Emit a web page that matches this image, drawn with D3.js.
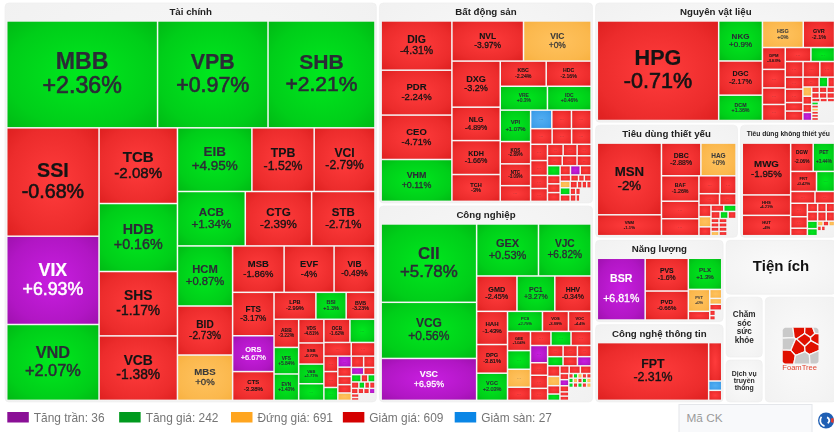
<!DOCTYPE html>
<html><head><meta charset="utf-8">
<script src="https://cdn.jsdelivr.net/npm/d3@7"></script>
<style>
html,body{margin:0;padding:0;background:#fff;overflow:hidden}
svg{display:block;filter:blur(0.35px);font-family:"Liberation Sans",Arial,sans-serif}
</style></head><body>
<svg id="c" width="834" height="432"></svg>
<script>
// name, percent change, relative weight
const S=(name,pct,w)=>({name,pct,w});
// unnamed small tile: status code, relative weight
const u=(code,w)=>({code,w});
const E=w=>({empty:true,w});
const H=(...kids)=>({dir:'H',kids});
const V=(...kids)=>({dir:'V',kids});
const r=w=>u('down',w), g=w=>u('up',w), o=w=>u('flat',w), p=w=>u('ceil',w), b=w=>u('floor',w);

const ceilingTickers=['VIX','ORS','VSC','BSR'];

const tcTiny=V(H(r(138),r(127)),H(p(88),r(80)),H(g(71),r(49),g(52)),H(r(48),g(37),r(31),r(34)),H(r(36),r(30),r(30),p(30)),H(V(r(28),r(22)),E(105)));
const tcSmall=V(H(S('OCB',-1.62,599),g(576)),H(r(371),r(322)),H(V(r(213),r(220),g(178)),V(p(148),r(125),r(110),r(112),o(99)),tcTiny));
const tcMid=V(H(S('LPB',-2.99,1120),S('BSI',1.3,810),S('BVB',-3.23,770)),
  H(V(S('ABB',-3.22,688),S('VFS',5.84,650),S('EVN',1.43,645)),V(S('VDS',-4.81,592),S('SSB',-0.72,529),S('VAB',1.71,491),g(416)),tcSmall));
const tcLow=H(V(S('HCM',0.87,3289),S('BID',-2.73,2684),S('MBS',0,2481)),
  V(H(S('MSB',-1.86,2372),S('EVF',-4,2302),S('VIB',-0.49,1883)),H(V(S('FTS',-3.17,1785),S('ORS',6.67,1473),S('CTS',-3.38,1183)),tcMid)));
const tcRight=V(H(S('EIB',4.95,4704),S('TPB',-1.52,3936),S('VCI',-2.79,3840)),H(S('ACB',1.34,3665),S('CTG',-2.39,3584),S('STB',-2.71,3421)),tcLow);
const taiChinh=V(H(S('MBB',2.36,15996),S('VPB',0.97,11715),S('SHB',2.21,11342)),
  H(V(S('SSI',-0.68,9931),S('VIX',6.93,8088),S('VND',2.07,6951)),V(S('TCB',-2.08,5889),S('HDB',0.16,5288),S('SHS',-1.17,5008),S('VCB',-1.38,5015)),tcRight));

const bdsTiny=V(H(r(49),r(32),r(32),r(30)),H(r(36),r(30),E(70)),H(r(39),r(25),E(75)));
const bdsCorner=V(H(r(95),p(90),r(100)),H(r(65),r(49),r(36),r(42)),H(V(o(65),g(70),r(65)),bdsTiny));
const bdsA=V(H(r(178),r(159),r(159)),H(r(145),r(145),r(138)),H(V(g(124),r(104),r(110),r(110)),bdsCorner));
const bdsB=V(H(b(389),r(361),r(361)),H(r(333),r(302),r(302)),H(V(r(271),r(247),r(219),r(214)),bdsA));
const bdsC=V(H(S('KBC',-2.24,1147),S('HDC',-2.16,1121)),H(S('VRE',0.3,1114),S('IDC',0.46,1031)),H(V(S('VPI',1.07,946),S('KOS',-2.89,671),S('NTC',-3.09,656),r(473)),bdsB));
const batDongSan=H(V(S('DIG',-4.31,3450),S('PDR',-2.24,3146),S('CEO',-4.71,3111),S('VHM',0.11,2934)),
  V(H(S('NVL',-3.97,2846),S('VIC',0,2687)),H(V(S('DXG',-3.2,2207),S('NLG',-4.89,1600),S('KDH',-1.66,1625),S('TCH',-3,1285)),bdsC)));

const cnTiny=V(H(r(21),g(21),o(21),r(21),r(21)),H(g(21),o(21),r(21),g(21),o(21)),H(g(21),r(21),g(21),r(21),o(21)),E(292));
const cnCorner=V(H(r(72),r(87),r(84)),H(V(r(55),p(55),r(55),r(38),r(38)),cnTiny));
const cnA=V(H(r(175),r(162),r(155)),H(g(144),r(134),p(128)),H(V(r(132),o(116),r(104),g(79)),cnCorner));
const cnB=V(H(r(293),g(287),r(287)),H(V(p(300),r(218),r(228),r(209)),cnA));
const cnC=V(H(S('PC9',2.75,711),S('VOS',-3.89,529),S('VOC',-4.4,461)),H(V(S('GEE',-1.04,447),g(435),o(418),r(306)),cnB));
const congNghiep=H(V(S('CII',5.78,7590),S('VCG',0.56,5435),S('VSC',6.95,4060)),
  V(H(S('GEX',0.53,3264),S('VJC',6.82,2777)),H(S('GMD',-2.45,1448),S('PC1',3.27,1358),S('HHV',-0.34,1303)),
    H(V(S('HAH',-1.43,1040),S('DPG',-3.81,898),S('VGC',2.03,851)),cnC)));

const nvTiny=V(H(r(43),r(43),r(43)),H(r(43),r(43),r(43)),H(r(30),r(26),r(26)),H(V(g(21),r(21),o(21),r(21),r(21),r(21)),E(297)));
const nvA=V(H(r(160),g(85),r(66)),H(V(o(81),r(71),r(71),p(71)),nvTiny));
const nvB=V(H(r(357),g(329)),H(r(277),r(261),r(229)),H(V(r(210),r(236),r(149),r(166)),nvA));
const nguyenVatLieu=H(S('HPG',-0.71,12034),V(S('NKG',0.9,1743),S('DGC',-2.17,1489),S('DCM',1.36,1104)),
  V(H(S('HSG',0,1081),S('GVR',-2.1,828)),H(V(S('DPM',-3.63,497),r(422),r(376),r(365)),nvB)));

const tyTiny=V(H(r(81),g(78)),H(r(64),g(56),r(56)),H(V(r(34),r(34),r(34),o(34)),V(r(34),r(34),r(34),r(34)),E(153)));
const tyA=V(H(r(376),r(281)),H(r(232),r(186)),H(V(r(138),o(122),r(105)),tyTiny));
const tieuDungThietYeu=H(V(S('MSN',-2,4550),S('VNM',-1.1,1325)),
  V(H(S('DBC',-2.88,1274),S('HAG',0,1138)),H(V(S('BAF',-1.26,942),r(650),r(628)),tyA)));

const ktTiny=V(H(r(92),r(77),r(75)),H(r(100),r(84),r(81)),H(V(g(79),g(74)),V(H(o(29),r(29),o(29)),H(r(20),r(20),E(47)),E(87))));
const tieuDungKhongThietYeu=H(V(S('MWG',-1.95,2629),S('HHS',-4.21,1036),S('HUT',-4,1031)),
  V(H(S('DGW',-2.06,668),S('PET',3.44,634)),H(S('FRT',-0.42,543),g(379)),H(r(301),r(242)),H(V(r(236),r(201),r(131)),ktTiny)));

const nangLuong=H(S('BSR',6.81,2907),V(S('PVS',-1.6,1391),S('PVD',-0.66,1231)),
  V(S('PLX',1.3,1022),H(V(S('PVT',0,462),r(183)),V(o(106),o(69),r(69),H(V(r(30),r(24)),E(62))))));

const congNgheThongTin=H(S('FPT',-2.31,6550),V(r(510),b(124),r(133)));

const sectorNames=['Tài chính','Bất động sản','Công nghiệp','Nguyên vật liệu','Tiêu dùng thiết yếu','Tiêu dùng không thiết yếu','Năng lượng','Công nghệ thông tin','Tiện ích','Chăm sóc sức khỏe','Dịch vụ truyền thông','FoamTree'];
const sectorWeights=[150348,43834,42966,29707,16675,11328,11004,10480,6412,2457,1755,7938];
const sectorTrees=[taiChinh,batDongSan,congNghiep,nguyenVatLieu,tieuDungThietYeu,tieuDungKhongThietYeu,nangLuong,congNgheThongTin,null,null,null,null];

const legendLabels=['Tăng trần','Tăng giá','Đứng giá','Giảm giá','Giảm sàn'];
const legendCounts=[36,242,691,609,27];
const legendColors=['#8a0f96','#009a1e','#ffa51f','#d40000','#0a86e6'];
const searchPlaceholder='Mã CK';

// palette
const tone={
  up:{c:'#00e81e',e:'#00b814',t:'#2b2b36'},
  down:{c:'#ff3c3c',e:'#dd1f1f',t:'#141414'},
  ceil:{c:'#c81ee0',e:'#9e10ad',t:'#ffffff'},
  flat:{c:'#ffc25e',e:'#f7b03f',t:'#3a3a3a'},
  floor:{c:'#52aef2',e:'#2f93e4',t:'#3a3a3a'}
};
const statusOf=d=>d.code?d.code:(ceilingTickers.includes(d.name)?'ceil':d.pct>0?'up':d.pct===0?'flat':'down');
const fmt=v=>(v>=0?'+':'')+v+'%';

const svg=d3.select('#c');
const defs=svg.append('defs');
Object.entries(tone).forEach(([k,t])=>{
  const gr=defs.append('radialGradient').attr('id','g-'+k).attr('cx','50%').attr('cy','50%').attr('r','72%');
  gr.append('stop').attr('offset','0%').attr('stop-color',t.c);
  gr.append('stop').attr('offset','70%').attr('stop-color',d3.interpolateRgb(t.c,t.e)(0.55));
  gr.append('stop').attr('offset','100%').attr('stop-color',t.e);
});
const pg=defs.append('radialGradient').attr('id','g-panel').attr('cx','50%').attr('cy','50%').attr('r','72%');
pg.append('stop').attr('offset','0%').attr('stop-color','#fbfbfb');
pg.append('stop').attr('offset','100%').attr('stop-color','#f1f1f1');

const dirTile=(node,x0,y0,x1,y1)=>(node.data.dir==='V'?d3.treemapSlice:d3.treemapDice)(node,x0,y0,x1,y1);

// top-level panels
const leaf=i=>({i,w:sectorWeights[i]});
const topTree=H(leaf(0),V(leaf(1),leaf(2)),
  V(leaf(3),H(leaf(4),leaf(5)),
    H(V(leaf(6),leaf(7)),V(leaf(8),H(V(leaf(9),leaf(10)),leaf(11))))));
const topRoot=d3.hierarchy(topTree,d=>d.kids).sum(d=>d.w||0);
d3.treemap().tile(dirTile).size([831,399]).paddingInner(3)(topRoot);
const PAD={l:2.5,r:2.2,t:18.7,b:2.4};

const panels=svg.append('g').attr('transform','translate(5,3)');
topRoot.leaves().forEach(n=>{
  const i=n.data.i, w=n.x1-n.x0, h=n.y1-n.y0;
  const G=panels.append('g').attr('transform',`translate(${n.x0},${n.y0})`);
  G.append('rect').attr('width',w).attr('height',h).attr('rx',4).attr('fill','url(#g-panel)')
    .attr('stroke','#ececec').attr('stroke-width',0.6);
  const name=sectorNames[i], tree=sectorTrees[i];
  if(tree){
    const t=G.append('text').attr('x',w/2).attr('y',PAD.t/2+0.2).attr('text-anchor','middle')
      .attr('dominant-baseline','middle').attr('font-weight','bold').attr('font-size',9.7).attr('fill','#222').text(name);
    const len=t.node().getComputedTextLength();
    if(len>w*0.87) t.attr('font-size',9.7*w*0.87/len);
    const root=d3.hierarchy(tree,d=>d.kids).sum(d=>d.w||0);
    d3.treemap().tile(dirTile).size([w-PAD.l-PAD.r,h-PAD.t-PAD.b]).paddingInner(1.5)(root);
    const T=G.append('g').attr('transform',`translate(${PAD.l},${PAD.t})`);
    const cells=T.selectAll('g').data(root.leaves().filter(d=>!d.data.empty)).join('g')
      .attr('transform',d=>`translate(${d.x0},${d.y0})`);
    cells.append('rect').attr('width',d=>d.x1-d.x0).attr('height',d=>d.y1-d.y0)
      .attr('fill',d=>`url(#g-${statusOf(d.data)})`);
    cells.each(function(d){
      const cw=d.x1-d.x0, ch=d.y1-d.y0, sel=d3.select(this), st=statusOf(d.data);
      if(d.data.name){
        const fs=Math.min(0.2*Math.sqrt(cw*ch),0.22*ch,cw*0.95/3.42,23.5);
        const lh=ch/cw>1.25?1.85:1.05;
        const mid=ch/2+(lh-1.05)*fs*-0.5;
        const tx=sel.append('text').attr('text-anchor','middle').attr('font-size',fs).attr('fill',tone[st].t)
          .attr('stroke',tone[st].t);
        tx.append('tspan').attr('x',cw/2).attr('y',mid-fs*0.247).attr('stroke-width',fs*0.01).attr('font-weight','bold').text(d.data.name);
        tx.append('tspan').attr('x',cw/2).attr('y',mid-fs*0.247+lh*fs).attr('stroke-width',fs*0.03).text(fmt(d.data.pct));
      } else if(cw>=12&&ch>=8){
        sel.append('text').attr('x',cw/2).attr('y',ch/2+1).attr('text-anchor','middle')
          .attr('font-size',Math.min(5,ch*0.4)).attr('fill','#333').attr('fill-opacity',0.55).text('...');
      }
    });
  } else if(name==='Tiện ích'){
    G.append('text').attr('x',w/2).attr('y',h/2).attr('text-anchor','middle').attr('dominant-baseline','middle')
      .attr('font-weight','bold').attr('font-size',15).attr('fill','#111').text(name);
  } else if(name==='Chăm sóc sức khỏe'||name==='Dịch vụ truyền thông'){
    const lines=name==='Chăm sóc sức khỏe'?['Chăm','sóc','sức','khỏe']:['Dịch vụ','truyền','thông'];
    const fs=name==='Chăm sóc sức khỏe'?8.2:6.9, lh=fs*1.02;
    G.append('text').attr('text-anchor','middle').attr('font-weight','bold').attr('font-size',fs).attr('fill','#2a2a2a')
      .selectAll('tspan').data(lines).join('tspan').attr('x',w/2)
      .attr('y',(d,k)=>h/2+(k-(lines.length-1)/2)*lh+fs*0.35).text(d=>d);
  } else {
    // FoamTree logo: Voronoi cells in a rounded square
    const S0=37, ox=(w-S0)/2, oy=30;
    const seeds=[[.15,.14],[.46,.1],[.76,.12],[.95,.05],[.62,.33],[.92,.3],[.16,.44],[.42,.55],[.8,.52],[.14,.8],[.55,.88],[.94,.85]];
    const fills=['#c9c9c9','#e01000','#e01000','#c9c9c9','#e01000','#e01000','#c9c9c9','#e01000','#e01000','#e01000','#c9c9c9','#c9c9c9'];
    const sx=d3.scaleLinear().range([0,S0]), sy=d3.scaleLinear().range([0,S0]);
    const vor=d3.Delaunay.from(seeds,d=>sx(d[0]),d=>sy(d[1])).voronoi([0,0,S0,S0]);
    const L=G.append('g').attr('transform',`translate(${ox},${oy})`);
    const cp=defs.append('clipPath').attr('id','logo');
    cp.append('rect').attr('width',S0).attr('height',S0).attr('rx',5);
    const LC=L.append('g').attr('clip-path','url(#logo)');
    seeds.forEach((s,k)=>LC.append('path').attr('d',vor.renderCell(k)).attr('fill',fills[k]).attr('stroke','#f6f6f6').attr('stroke-width',1.3));
    G.append('text').attr('x',w/2-1).attr('y',oy+S0+5.5).attr('text-anchor','middle').attr('font-size',7.6).attr('fill','#e0422e').text('FoamTree');
  }
});

// legend
const lx=d3.scaleLinear().domain([0,4]).range([7.3,454.7]);
const leg=svg.append('g').selectAll('g').data(legendLabels).join('g').attr('transform',(d,i)=>`translate(${lx(i)},412)`);
leg.append('rect').attr('width',21.5).attr('height',10.5).attr('fill',(d,i)=>legendColors[i]);
leg.append('text').attr('x',26.5).attr('y',9.8).attr('font-size',11.9).attr('fill','#757575').text((d,i)=>`${d}: ${legendCounts[i]}`);

// search box
const sb=svg.append('g').attr('transform','translate(679,404.5)');
sb.append('rect').attr('width',133).attr('height',30).attr('fill','#f8f9fb').attr('stroke','#e4e6ea');
sb.append('text').attr('x',7.5).attr('y',17.8).attr('font-size',11.8).attr('fill','#9a9a9a').text(searchPlaceholder);

// corner logo
const ic=svg.append('g').attr('transform','translate(826,420.5)');
ic.append('circle').attr('r',8).attr('fill','#1f5fb4');
const arcI=d3.arc();
ic.append('path').attr('d',arcI({innerRadius:2.4,outerRadius:4.2,startAngle:0.3,endAngle:2.6})).attr('fill','#fff');
ic.append('path').attr('d',arcI({innerRadius:5,outerRadius:6.6,startAngle:3.4,endAngle:5.4})).attr('fill','#fff');
ic.append('path').attr('d',arcI({innerRadius:5,outerRadius:7.8,startAngle:1.2,endAngle:1.9})).attr('fill','#e03a30');
</script>
</body></html>
